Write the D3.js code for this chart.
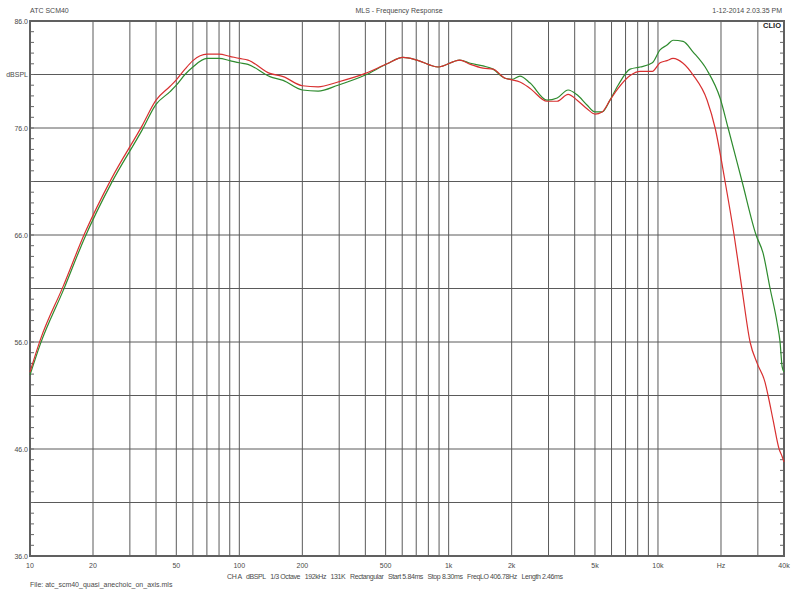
<!DOCTYPE html>
<html>
<head>
<meta charset="utf-8">
<script src="https://cdn.jsdelivr.net/npm/d3@7"></script>
<style>
  html, body { margin: 0; padding: 0; background: #fff; }
  svg { display: block; }
  text { font-family: "Liberation Sans", Arial, sans-serif; }
</style>
</head>
<body>
<svg id="chart" width="798" height="599"></svg>
<script>
// ---------- data ----------
const titleLeft = "ATC SCM40";
const titleCenter = "MLS - Frequency Response";
const titleRight = "1-12-2014 2.03.35 PM";
const fileLine = "File: atc_scm40_quasi_anechoic_on_axis.mls";
const infoItems = ["CH A", "dBSPL", "1/3 Octave", "192kHz", "131K", "Rectangular", "Start 5.84ms", "Stop 8.30ms", "FreqLO 406.78Hz", "Length 2.46ms"];

const xTickValues = [10, 20, 50, 100, 200, 500, 1000, 2000, 5000, 10000, 20000, 40000];
const xTickLabels = ["10", "20", "50", "100", "200", "500", "1k", "2k", "5k", "10k", "Hz", "40k"];
const xGridValues = [20, 30, 40, 50, 60, 70, 80, 90, 100, 200, 300, 400, 500, 600, 700, 800, 900,
                     1000, 2000, 3000, 4000, 5000, 6000, 7000, 8000, 9000, 10000, 20000, 30000];
const yTickValues = [86, 81, 76, 66, 56, 46, 36];
const yTickLabels = ["86.0", "dBSPL", "76.0", "66.0", "56.0", "46.0", "36.0"];
const yGridValues = [41, 46, 51, 56, 61, 66, 71, 76, 81];

const redFreq = [10, 11.2, 14.4, 18.3, 24.4, 34.3, 40, 46.7, 50, 55, 60, 70, 80, 90, 100, 110, 140, 162, 200, 238, 296, 400, 508, 605, 706, 890,
  1130, 1270, 1460, 1630, 1860, 2010, 2190, 2450, 2950, 3300, 3720, 4110, 4580, 5000, 5410, 5900, 6450, 7360, 8220, 9400,
  10230, 11050, 11800, 13180, 14720, 17170, 18750, 20920, 23100, 25220, 27540, 29780, 32500, 33570, 35480, 37900, 39180, 40000];
const redDb = [53.2, 56.2, 61.2, 66.2, 71.2, 76.2, 78.6, 79.9, 80.5, 81.5, 82.3, 82.9, 82.9, 82.7, 82.5, 82.35, 81.1, 80.8, 79.95, 79.85, 80.3, 81.1, 82.0, 82.6, 82.35, 81.7,
  82.35, 81.95, 81.6, 81.5, 80.65, 80.5, 80.3, 79.7, 78.5, 78.5, 79.15, 78.6, 77.8, 77.3, 77.5, 78.6, 79.7, 80.9, 81.3, 81.3,
  82.1, 82.3, 82.5, 82.05, 80.95, 78.6, 76.0, 71.0, 66.0, 60.9, 56.0, 54.0, 52.2, 51.0, 48.7, 46.0, 45.3, 44.8];

const greenFreq = [10, 11.2, 14.4, 18.3, 24.4, 34.3, 40, 46.7, 50, 55, 60, 70, 80, 90, 100, 110, 140, 162, 200, 238, 296, 400, 508, 605, 706, 890,
  1130, 1270, 1460, 1630, 1860, 2010, 2190, 2450, 2950, 3300, 3720, 4110, 4580, 5000, 5410, 5900, 6450, 7360, 8220, 9400,
  10230, 11050, 11800, 13180, 14720, 17170, 19800, 21630, 25220, 29420, 31780, 34330, 37070, 38300, 39180, 40000];
const greenDb = [52.9, 55.8, 60.8, 65.8, 70.8, 75.8, 78.2, 79.4, 80.0, 81.0, 81.7, 82.5, 82.5, 82.3, 82.1, 81.95, 80.8, 80.45, 79.55, 79.45, 80.0, 80.95, 82.0, 82.6, 82.35, 81.7,
  82.35, 82.05, 81.8, 81.5, 80.65, 80.55, 80.85, 80.2, 78.6, 78.8, 79.55, 79.1, 78.15, 77.5, 77.5, 78.6, 80.0, 81.5, 81.7, 82.1,
  83.3, 83.75, 84.2, 84.1, 83.1, 81.4, 78.8, 76.0, 71.0, 66.0, 64.3, 61.0, 57.8, 56.0, 53.7, 53.2];

// ---------- layout ----------
const mLeft = 30, mRight = 784, mTop = 21, mBottom = 556;
const svg = d3.select("#chart");
const x = d3.scaleLog().domain([10, 40000]).range([mLeft, mRight]);
const y = d3.scaleLinear().domain([36, 86]).range([mBottom, mTop]);
const gridColor = "#5a5a5a";
const textColor = "#4a4a4a";

// grid
svg.append("g").selectAll("line").data(xGridValues).join("line")
  .attr("x1", d => x(d)).attr("x2", d => x(d))
  .attr("y1", mTop).attr("y2", mBottom)
  .attr("stroke", gridColor).attr("stroke-width", 1);
svg.append("g").selectAll("line").data(yGridValues).join("line")
  .attr("x1", mLeft).attr("x2", mRight)
  .attr("y1", d => y(d)).attr("y2", d => y(d))
  .attr("stroke", gridColor).attr("stroke-width", 1);

// minor ticks on left and right axes (every 1 dB)
const minor = d3.range(36, 87, 1);
svg.append("g").selectAll("line").data(minor).join("line")
  .attr("x1", mLeft).attr("x2", mLeft + 4)
  .attr("y1", d => y(d)).attr("y2", d => y(d))
  .attr("stroke", "#666").attr("stroke-width", 1);
svg.append("g").selectAll("line").data(minor).join("line")
  .attr("x1", mRight - 4).attr("x2", mRight)
  .attr("y1", d => y(d)).attr("y2", d => y(d))
  .attr("stroke", "#666").attr("stroke-width", 1);

// frame
svg.append("rect").attr("x", mLeft).attr("y", mTop)
  .attr("width", mRight - mLeft).attr("height", mBottom - mTop)
  .attr("fill", "none").attr("stroke", "#606060").attr("stroke-width", 2);

// curves
const line = d3.line().x(d => x(d[0])).y(d => y(d[1])).curve(d3.curveMonotoneX);
svg.append("path").datum(greenFreq.map((f, i) => [f, greenDb[i]]))
  .attr("d", line).attr("fill", "none").attr("stroke", "#2e8b2e").attr("stroke-width", 1.2);
svg.append("path").datum(redFreq.map((f, i) => [f, redDb[i]]))
  .attr("d", line).attr("fill", "none").attr("stroke", "#d83030").attr("stroke-width", 1.2);

// y labels
svg.append("g").selectAll("text").data(yTickValues).join("text")
  .attr("x", mLeft - 2).attr("y", d => y(d) + 2.5)
  .attr("text-anchor", "end").attr("font-size", 7).attr("fill", textColor)
  .text((d, i) => yTickLabels[i]);

// x labels
svg.append("g").selectAll("text").data(xTickValues).join("text")
  .attr("x", d => x(d)).attr("y", 568)
  .attr("text-anchor", "middle").attr("font-size", 7).attr("fill", textColor)
  .text((d, i) => xTickLabels[i]);

// titles
svg.append("text").attr("x", 30).attr("y", 13).attr("font-size", 7).attr("fill", textColor).text(titleLeft);
svg.append("text").attr("x", 399).attr("y", 13).attr("text-anchor", "middle").attr("font-size", 7).attr("fill", textColor).text(titleCenter);
svg.append("text").attr("x", 782).attr("y", 13).attr("text-anchor", "end").attr("font-size", 7).attr("fill", textColor).text(titleRight);

// CLIO logo text
svg.append("text").attr("x", 781).attr("y", 28).attr("text-anchor", "end")
  .attr("font-size", 7.5).attr("font-weight", "bold")
  .attr("font-family", "'Liberation Serif', 'DejaVu Serif', serif")
  .attr("fill", "#222").text("CLIO");

// info line
svg.append("text").attr("x", 227).attr("y", 579)
  .attr("font-size", 7).attr("fill", textColor)
  .attr("textLength", 336).attr("lengthAdjust", "spacing")
  .style("white-space", "pre")
  .text(infoItems.join("   "));

// file line
svg.append("text").attr("x", 30).attr("y", 587).attr("font-size", 7).attr("fill", textColor).text(fileLine);
</script>
</body>
</html>
